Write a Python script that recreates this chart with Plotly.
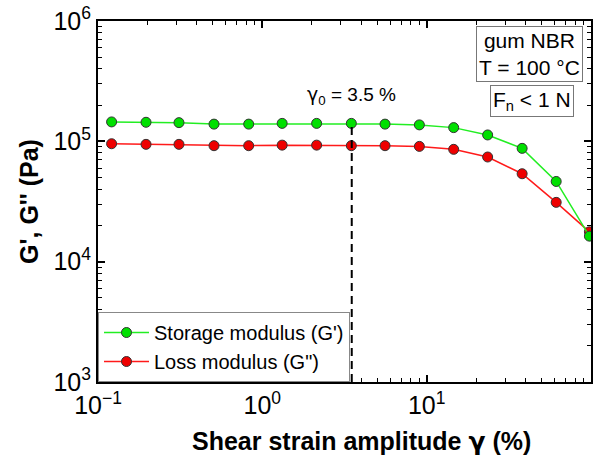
import math
import plotly.graph_objects as go

# Data
strain = [0.121, 0.196, 0.311, 0.508, 0.826, 1.32, 2.14, 3.48, 5.58, 9.03,
          14.6, 23.5, 38.1, 61.4, 97.8]
storage = [1.45e5, 1.44e5, 1.43e5, 1.39e5, 1.39e5, 1.41e5, 1.41e5, 1.41e5,
           1.39e5, 1.37e5, 1.30e5, 1.13e5, 8.74e4, 4.64e4, 1.63e4]
loss = [9.55e4, 9.44e4, 9.44e4, 9.2e4, 9.2e4, 9.3e4, 9.3e4, 9.2e4,
        9.2e4, 9.08e4, 8.58e4, 7.41e4, 5.38e4, 3.11e4, 1.77e4]
gamma0 = 3.5
gamma0_top = 1.41e5
y_bottom = 1e3

x_tickvals = [0.1, 1, 10, 100]
x_ticktext = ["10<sup>−1</sup>", "10<sup>0</sup>", "10<sup>1</sup>", "10<sup>2</sup>"]
y_tickvals = [1e3, 1e4, 1e5, 1e6]
y_ticktext = ["10<sup>3</sup>", "10<sup>4</sup>", "10<sup>5</sup>", "10<sup>6</sup>"]
x_minor = [m * 10.0 ** e for e in (-1, 0, 1) for m in range(2, 10)]
y_minor = [m * 10.0 ** e for e in (3, 4, 5) for m in range(2, 10)]

FONT = "Arial, Liberation Sans, sans-serif"
GAMMA = '<span style="font-family:DejaVu Sans">γ</span>'

fig = go.Figure()
fig.add_trace(go.Scatter(
    x=strain, y=loss, mode="lines+markers", name='Loss modulus (G")',
    line=dict(color="#ff1a1a", width=1.5),
    marker=dict(size=10, color="#ee0000", line=dict(color="#333333", width=1)),
))
fig.add_trace(go.Scatter(
    x=strain, y=storage, mode="lines+markers", name="Storage modulus (G')",
    line=dict(color="#22ee22", width=1.5),
    marker=dict(size=10, color="#00e000", line=dict(color="#333333", width=1)),
))
fig.add_trace(go.Scatter(
    x=[gamma0, gamma0], y=[y_bottom, gamma0_top], mode="lines", showlegend=False,
    line=dict(color="black", width=2, dash="8px,5px"), hoverinfo="skip",
))

axis_common = dict(
    type="log", showline=True, linecolor="black", linewidth=2, mirror="allticks",
    ticks="inside", ticklen=7, tickwidth=2, tickcolor="black",
    showgrid=False, zeroline=False, tickmode="array", automargin=False,
    tickfont=dict(family=FONT, size=25, color="black"),
)

fig.update_layout(
    width=608, height=463,
    margin=dict(l=98, r=17, t=21, b=81),
    paper_bgcolor="white", plot_bgcolor="white",
    font=dict(family=FONT, color="black"),
    xaxis=dict(axis_common, range=[-1, 2], tickvals=x_tickvals, ticktext=x_ticktext,
               minor=dict(ticks="inside", ticklen=4, tickwidth=1, tickcolor="black",
                          tickmode="array", tickvals=x_minor, showgrid=False)),
    yaxis=dict(axis_common, range=[3, 6], tickvals=y_tickvals, ticktext=y_ticktext,
               minor=dict(ticks="inside", ticklen=4, tickwidth=1, tickcolor="black",
                          tickmode="array", tickvals=y_minor, showgrid=False),
               title=dict(text="<b>G', G'' (Pa)</b>",
                          font=dict(family=FONT, size=25), standoff=8)),
    legend=dict(x=0, y=0, xanchor="left", yanchor="bottom",
                bordercolor="#888888", borderwidth=1, bgcolor="white",
                font=dict(family=FONT, size=20), traceorder="reversed",
                itemwidth=45, tracegroupgap=0),
    showlegend=True,
    annotations=[
        dict(x=0.535, xref="paper", y=-0.165, yref="paper",
             text="<b>Shear strain amplitude " + GAMMA + " (%)</b>", showarrow=False,
             font=dict(family=FONT, size=25), xanchor="center", yanchor="middle"),
        dict(x=math.log10(gamma0), xref="x", y=0.795, yref="paper",
             text=GAMMA + "<sub>0</sub> = 3.5 %", showarrow=False,
             font=dict(family=FONT, size=19), xanchor="center", yanchor="middle"),
        dict(x=0.984, xref="paper", y=0.985, yref="paper",
             text="gum NBR<br>T = 100 °C", showarrow=False, align="center",
             font=dict(family=FONT, size=21), xanchor="right", yanchor="top",
             bordercolor="#777777", borderwidth=1, borderpad=2, bgcolor="white"),
        dict(x=0.9655, xref="paper", y=0.822, yref="paper",
             text="F<sub>n</sub> < 1 N", showarrow=False,
             font=dict(family=FONT, size=21), xanchor="right", yanchor="top",
             bordercolor="#777777", borderwidth=1, borderpad=2, bgcolor="white"),
    ],
)

fig.write_html("out.html")
